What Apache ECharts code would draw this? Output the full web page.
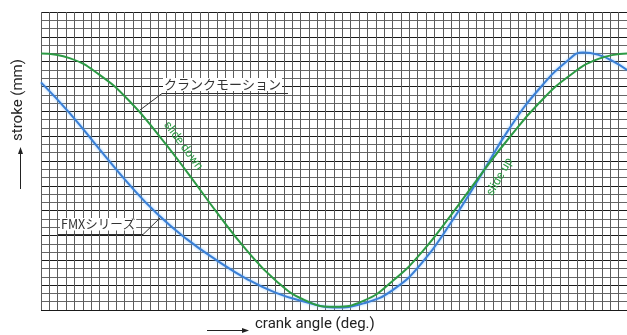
<!DOCTYPE html>
<html><head><meta charset="utf-8">
<script src="https://cdn.jsdelivr.net/npm/echarts@6/dist/echarts.min.js"></script>
<style>html,body{margin:0;padding:0;background:#fff}#c{width:627px;height:335px}</style>
</head><body><div id="c"></div>
<script>
// crank angle (deg) and stroke (grid units)
var angleCrank  = [0,17.5,35,52.5,70,87.5,105,122.5,140,157.5,175,192.5,210,227.5,245,262.5,280,297.5,315,332.5,350];
var strokeCrank = [31.0,30.4,28.4,25.3,21.2,16.6,11.8,7.3,3.6,1.2,0.4,1.1,3.5,7.0,11.5,16.3,20.9,25.0,28.2,30.3,31.0];
var angleFMX  = [0,17.5,35,52.5,70,87.5,105,122.5,140,157.5,175,192.5,210,227.5,245,262.5,280,297.5,315,323.75,332.5,341.25,350];
var strokeFMX = [27.5,23.7,19.4,15.2,11.5,8.5,6.0,3.8,2.1,1.0,0.3,0.8,2.4,5.7,10.6,16.2,22.0,26.7,30.2,31.1,30.85,30.1,29.0];
var nameCrank = 'クランクモーション';
var nameFMX = 'FMXシリーズ';
var xTitle = 'crank angle (deg.)';
var yTitle = 'stroke (mm)';

function pairs(a, b){ return a.map(function(v,i){ return [v, b[i]]; }); }

var chart = echarts.init(document.getElementById('c'), null, {renderer:'canvas'});
var narrow = '"Liberation Sans Narrow", "Roboto", sans-serif';
var jp = '"Noto Sans CJK JP", sans-serif';
chart.setOption({
  animation:false,
  backgroundColor:'#fff',
  grid:{left:41, top:12, right:0, bottom:25},
  xAxis:{type:'value', min:0, max:350, interval:5,
    axisLabel:{show:false}, axisTick:{show:false}, axisLine:{show:false},
    splitLine:{show:true, lineStyle:{color:'#5c5c5c', width:1}}},
  yAxis:{type:'value', min:0, max:36, interval:1,
    axisLabel:{show:false}, axisTick:{show:false}, axisLine:{show:false},
    splitLine:{show:true, lineStyle:{color:['#1a1a1a','#666','#666'], width:1}}},
  series:[
    {name:nameFMX, type:'line', smooth:0.5, showSymbol:false, data:pairs(angleFMX, strokeFMX),
      lineStyle:{color:'#3a7fd6', width:2, shadowColor:'rgba(120,190,255,0.8)', shadowBlur:3}, z:3},
    {name:nameCrank, type:'line', smooth:0.5, showSymbol:false, data:pairs(angleCrank, strokeCrank),
      lineStyle:{color:'#2c9a44', width:2}, z:4}
  ],
  graphic:[
    {type:'text', left:163, top:78, z:10, style:{text:nameCrank, font:'13px '+jp, fill:'#333', backgroundColor:'#fff', padding:[0,1]}},
    {type:'polyline', z:10, shape:{points:[[288,93.5],[162,93.5],[140,110]]}, style:{stroke:'#333', lineWidth:1, fill:null}},
    {type:'text', left:60, top:218, z:10, style:{text:nameFMX, font:'12.5px '+jp, fill:'#333', backgroundColor:'#fff', padding:[0,1]}},
    {type:'polyline', z:10, shape:{points:[[58,234.5],[143,234.5],[160,218]]}, style:{stroke:'#333', lineWidth:1, fill:null}},
    {type:'text', x:183, y:146, rotation:-0.93, z:10, style:{text:'slide down', font:'12px '+narrow, fill:'#2c9a44', align:'center', verticalAlign:'middle'}},
    {type:'text', x:500, y:177, rotation:1.05, z:10, style:{text:'slide up', font:'12px '+narrow, fill:'#2c9a44', align:'center', verticalAlign:'middle'}},
    {type:'text', x:18, y:100, rotation:Math.PI/2, style:{text:yTitle, font:'15px '+narrow, fill:'#222', align:'center', verticalAlign:'middle'}},
    {type:'line', shape:{x1:20.5, y1:189, x2:20.5, y2:152}, style:{stroke:'#222', lineWidth:1}},
    {type:'polygon', shape:{points:[[20.5,147],[18,154],[23,154]]}, style:{fill:'#222'}},
    {type:'line', shape:{x1:207, y1:330.5, x2:244, y2:330.5}, style:{stroke:'#222', lineWidth:1}},
    {type:'polygon', shape:{points:[[249,330.5],[242,328],[242,333]]}, style:{fill:'#222'}},
    {type:'text', left:255, top:317, style:{text:xTitle, font:'15px '+narrow, fill:'#222'}}
  ]
});
</script></body></html>
